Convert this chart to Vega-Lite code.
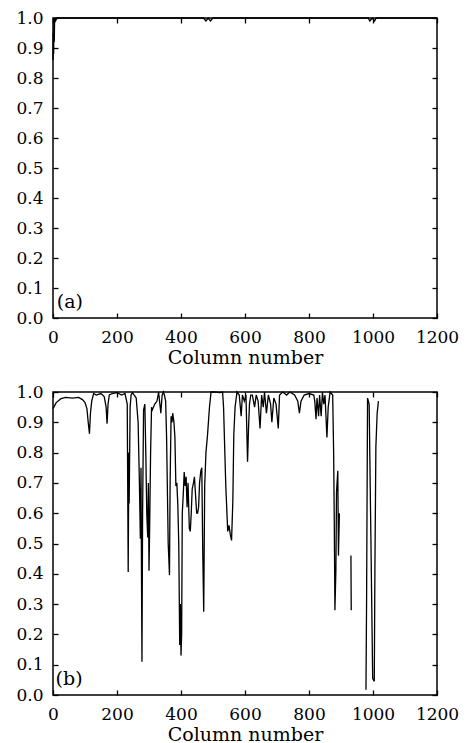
{
  "$schema": "https://vega.github.io/schema/vega-lite/v6.json",
  "padding": {"left": 15, "top": 8, "right": 5, "bottom": 5},
  "background": "white",
  "spacing": 14,
  "config": {
    "view": {"stroke": "black", "strokeWidth": 1.5},
    "axis": {
      "domain": false, "grid": false, "labelOverlap": false, "labelFlush": false,
      "labelFont": "DejaVu Serif", "labelFontSize": 17, "labelColor": "black",
      "tickColor": "black", "tickSize": -5, "tickWidth": 1.3, "labelPadding": 15,
      "titleFont": "DejaVu Serif", "titleFontSize": 19, "titleFontWeight": "normal", "titleColor": "black", "titlePadding": 3
    },
    "axisX": {"labelPadding": 16}
  },
  "datasets": {
    "a": [
      {"col": 0, "v": 0.86}, {"col": 1, "v": 0.95}, {"col": 2, "v": 0.88}, {"col": 3, "v": 0.98},
      {"col": 4, "v": 0.92}, {"col": 5, "v": 1.0}, {"col": 8, "v": 0.99}, {"col": 12, "v": 1.0},
      {"col": 60, "v": 1.0}, {"col": 200, "v": 1.0}, {"col": 470, "v": 1.0}, {"col": 478, "v": 0.99},
      {"col": 485, "v": 1.0}, {"col": 492, "v": 0.99}, {"col": 500, "v": 1.0}, {"col": 985, "v": 1.0},
      {"col": 990, "v": 0.99}, {"col": 998, "v": 1.0}, {"col": 1005, "v": 0.99}, {"col": 1010, "v": 1.0},
      {"col": 1200, "v": 1.0}
    ],
    "b": [
      {"col": 0, "v": 0.945}, {"col": 10, "v": 0.965}, {"col": 25, "v": 0.978}, {"col": 40, "v": 0.982},
      {"col": 60, "v": 0.98}, {"col": 80, "v": 0.982}, {"col": 92, "v": 0.975}, {"col": 100, "v": 0.965},
      {"col": 106, "v": 0.945}, {"col": 110, "v": 0.9}, {"col": 114, "v": 0.862}, {"col": 117, "v": 0.93},
      {"col": 121, "v": 0.97}, {"col": 127, "v": 0.995}, {"col": 135, "v": 0.99}, {"col": 150, "v": 0.995},
      {"col": 160, "v": 0.985}, {"col": 166, "v": 0.95}, {"col": 169, "v": 0.895}, {"col": 172, "v": 0.96},
      {"col": 176, "v": 0.99}, {"col": 185, "v": 0.995}, {"col": 200, "v": 0.998}, {"col": 215, "v": 0.99},
      {"col": 225, "v": 0.995}, {"col": 232, "v": 0.96}, {"col": 235, "v": 0.406}, {"col": 237, "v": 0.8},
      {"col": 238, "v": 0.632}, {"col": 241, "v": 0.95}, {"col": 244, "v": 0.99}, {"col": 248, "v": 0.998},
      {"col": 254, "v": 0.99}, {"col": 260, "v": 0.98}, {"col": 266, "v": 0.9}, {"col": 270, "v": 0.7},
      {"col": 273, "v": 0.516}, {"col": 275, "v": 0.75}, {"col": 277, "v": 0.3}, {"col": 278, "v": 0.11},
      {"col": 280, "v": 0.6}, {"col": 283, "v": 0.94}, {"col": 287, "v": 0.96}, {"col": 290, "v": 0.8},
      {"col": 293, "v": 0.6}, {"col": 296, "v": 0.52}, {"col": 298, "v": 0.7}, {"col": 300, "v": 0.41},
      {"col": 302, "v": 0.55}, {"col": 305, "v": 0.8}, {"col": 308, "v": 0.95}, {"col": 310, "v": 0.94},
      {"col": 318, "v": 0.96}, {"col": 325, "v": 0.97}, {"col": 330, "v": 1.0}, {"col": 334, "v": 0.96},
      {"col": 337, "v": 0.93}, {"col": 341, "v": 0.99}, {"col": 345, "v": 1.0}, {"col": 348, "v": 0.99},
      {"col": 352, "v": 0.97}, {"col": 355, "v": 0.85}, {"col": 358, "v": 0.64}, {"col": 360, "v": 0.5},
      {"col": 362, "v": 0.45}, {"col": 364, "v": 0.395}, {"col": 366, "v": 0.7}, {"col": 369, "v": 0.92},
      {"col": 372, "v": 0.9}, {"col": 374, "v": 0.93}, {"col": 378, "v": 0.9}, {"col": 381, "v": 0.85},
      {"col": 384, "v": 0.69}, {"col": 387, "v": 0.7}, {"col": 390, "v": 0.63}, {"col": 393, "v": 0.5},
      {"col": 396, "v": 0.165}, {"col": 398, "v": 0.3}, {"col": 400, "v": 0.13}, {"col": 402, "v": 0.2},
      {"col": 404, "v": 0.6}, {"col": 407, "v": 0.66}, {"col": 410, "v": 0.736}, {"col": 413, "v": 0.69},
      {"col": 416, "v": 0.72}, {"col": 419, "v": 0.62}, {"col": 422, "v": 0.7}, {"col": 426, "v": 0.55},
      {"col": 429, "v": 0.54}, {"col": 432, "v": 0.6}, {"col": 435, "v": 0.68}, {"col": 439, "v": 0.7},
      {"col": 442, "v": 0.72}, {"col": 446, "v": 0.65}, {"col": 449, "v": 0.6}, {"col": 452, "v": 0.6},
      {"col": 455, "v": 0.62}, {"col": 458, "v": 0.7}, {"col": 462, "v": 0.74}, {"col": 465, "v": 0.75},
      {"col": 468, "v": 0.47}, {"col": 471, "v": 0.275}, {"col": 474, "v": 0.69}, {"col": 478, "v": 0.8},
      {"col": 483, "v": 0.86}, {"col": 489, "v": 0.95}, {"col": 494, "v": 1.0}, {"col": 505, "v": 1.0},
      {"col": 520, "v": 0.998}, {"col": 530, "v": 1.0}, {"col": 533, "v": 0.95}, {"col": 537, "v": 0.8},
      {"col": 540, "v": 0.69}, {"col": 546, "v": 0.54}, {"col": 550, "v": 0.56}, {"col": 554, "v": 0.53},
      {"col": 558, "v": 0.51}, {"col": 562, "v": 0.64}, {"col": 565, "v": 0.86}, {"col": 569, "v": 0.95},
      {"col": 575, "v": 1.0}, {"col": 582, "v": 0.99}, {"col": 588, "v": 0.92}, {"col": 592, "v": 0.99},
      {"col": 598, "v": 0.97}, {"col": 603, "v": 0.99}, {"col": 608, "v": 0.77}, {"col": 611, "v": 0.88},
      {"col": 614, "v": 0.96}, {"col": 618, "v": 0.99}, {"col": 623, "v": 0.99}, {"col": 630, "v": 0.95},
      {"col": 635, "v": 0.99}, {"col": 641, "v": 0.97}, {"col": 647, "v": 0.88}, {"col": 652, "v": 0.99},
      {"col": 657, "v": 0.95}, {"col": 661, "v": 1.0}, {"col": 667, "v": 0.93}, {"col": 673, "v": 0.99},
      {"col": 680, "v": 0.96}, {"col": 684, "v": 0.9}, {"col": 690, "v": 0.98}, {"col": 697, "v": 0.96},
      {"col": 704, "v": 0.88}, {"col": 708, "v": 0.99}, {"col": 718, "v": 1.0}, {"col": 730, "v": 0.99},
      {"col": 740, "v": 1.0}, {"col": 755, "v": 0.99}, {"col": 765, "v": 0.97}, {"col": 770, "v": 0.93},
      {"col": 775, "v": 0.97}, {"col": 785, "v": 0.99}, {"col": 800, "v": 0.995}, {"col": 815, "v": 0.99},
      {"col": 818, "v": 0.97}, {"col": 822, "v": 0.91}, {"col": 825, "v": 0.98}, {"col": 830, "v": 0.92},
      {"col": 833, "v": 0.99}, {"col": 838, "v": 0.92}, {"col": 842, "v": 1.0}, {"col": 846, "v": 0.96},
      {"col": 850, "v": 0.99}, {"col": 856, "v": 0.85}, {"col": 860, "v": 0.95}, {"col": 866, "v": 1.0},
      {"col": 874, "v": 0.99}, {"col": 877, "v": 0.8}, {"col": 879, "v": 0.57}, {"col": 881, "v": 0.28},
      {"col": 884, "v": 0.41}, {"col": 886, "v": 0.67}, {"col": 890, "v": 0.74}, {"col": 892, "v": 0.46},
      {"col": 895, "v": 0.6}, {"col": 896, "v": null},
      {"col": 931, "v": 0.46}, {"col": 932, "v": 0.28}, {"col": 933, "v": null},
      {"col": 978, "v": 0.017}, {"col": 980, "v": 0.32}, {"col": 983, "v": 0.98}, {"col": 988, "v": 0.96},
      {"col": 994, "v": 0.47}, {"col": 999, "v": 0.055}, {"col": 1004, "v": 0.045}, {"col": 1006, "v": 0.42},
      {"col": 1009, "v": 0.82}, {"col": 1013, "v": 0.93}, {"col": 1017, "v": 0.97}
    ]
  },
  "vconcat": [
    {
      "width": 384, "height": 300,
      "layer": [
        {
          "data": {"name": "a"},
          "mark": {"type": "line", "color": "black", "strokeWidth": 1.3},
          "encoding": {
            "x": {"field": "col", "type": "quantitative", "scale": {"domain": [0, 1200], "nice": false},
                  "axis": {"values": [0, 200, 400, 600, 800, 1000, 1200], "format": "d", "title": "Column number"}},
            "y": {"field": "v", "type": "quantitative", "scale": {"domain": [0, 1], "nice": false},
                  "axis": {"values": [0, 0.1, 0.2, 0.3, 0.4, 0.5, 0.6, 0.7, 0.8, 0.9, 1.0], "format": ".1f", "title": null}}
          }
        },
        {
          "data": {"name": "a"},
          "mark": {"type": "line", "opacity": 0},
          "encoding": {
            "x": {"field": "col", "type": "quantitative",
                  "axis": {"orient": "top", "values": [0, 200, 400, 600, 800, 1000, 1200], "labels": false, "title": null}},
            "y": {"field": "v", "type": "quantitative",
                  "axis": {"orient": "right", "values": [0, 0.1, 0.2, 0.3, 0.4, 0.5, 0.6, 0.7, 0.8, 0.9, 1.0], "labels": false, "title": null}}
          }
        },
        {
          "data": {"values": [{}]},
          "mark": {"type": "text", "align": "left", "baseline": "middle", "font": "DejaVu Serif", "fontSize": 19, "color": "black"},
          "encoding": {
            "x": {"datum": 12, "type": "quantitative", "axis": null},
            "y": {"datum": 0.055, "type": "quantitative", "axis": null},
            "text": {"value": "(a)"}
          }
        }
      ],
      "resolve": {"axis": {"x": "independent", "y": "independent"}}
    },
    {
      "width": 384, "height": 303,
      "layer": [
        {
          "data": {"name": "b"},
          "mark": {"type": "line", "color": "black", "strokeWidth": 1.3},
          "encoding": {
            "x": {"field": "col", "type": "quantitative", "scale": {"domain": [0, 1200], "nice": false},
                  "axis": {"values": [0, 200, 400, 600, 800, 1000, 1200], "format": "d", "title": "Column number"}},
            "y": {"field": "v", "type": "quantitative", "scale": {"domain": [0, 1], "nice": false},
                  "axis": {"values": [0, 0.1, 0.2, 0.3, 0.4, 0.5, 0.6, 0.7, 0.8, 0.9, 1.0], "format": ".1f", "title": null}}
          }
        },
        {
          "data": {"name": "b"},
          "mark": {"type": "line", "opacity": 0},
          "encoding": {
            "x": {"field": "col", "type": "quantitative",
                  "axis": {"orient": "top", "values": [0, 200, 400, 600, 800, 1000, 1200], "labels": false, "title": null}},
            "y": {"field": "v", "type": "quantitative",
                  "axis": {"orient": "right", "values": [0, 0.1, 0.2, 0.3, 0.4, 0.5, 0.6, 0.7, 0.8, 0.9, 1.0], "labels": false, "title": null}}
          }
        },
        {
          "data": {"values": [{}]},
          "mark": {"type": "text", "align": "left", "baseline": "middle", "font": "DejaVu Serif", "fontSize": 19, "color": "black"},
          "encoding": {
            "x": {"datum": 8, "type": "quantitative", "axis": null},
            "y": {"datum": 0.053, "type": "quantitative", "axis": null},
            "text": {"value": "(b)"}
          }
        }
      ],
      "resolve": {"axis": {"x": "independent", "y": "independent"}}
    }
  ]
}
